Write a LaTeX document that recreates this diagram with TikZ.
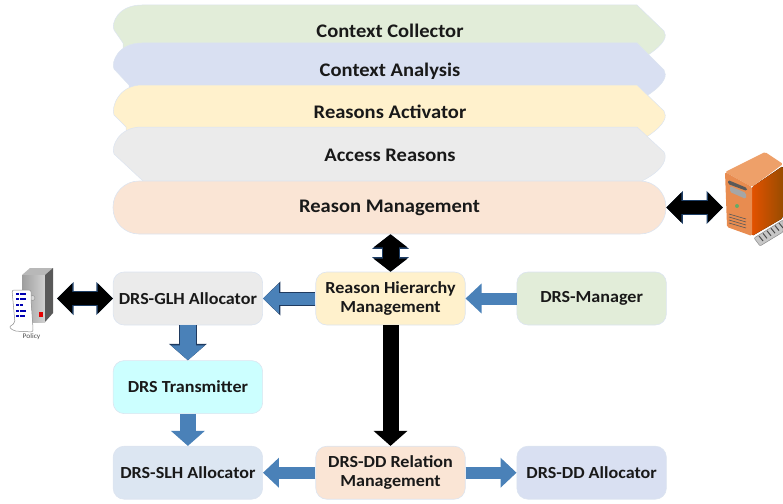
\documentclass[tikz,border=0pt]{standalone}
\usepackage{fontspec}
\setmainfont[FakeStretch=1.07]{Carlito}
\usetikzlibrary{positioning,arrows.meta}
\definecolor{bandgreen}{HTML}{E2EDD9}
\definecolor{bandblue}{HTML}{D9E0F2}
\definecolor{bandyellow}{HTML}{FFF1CC}
\definecolor{bandgray}{HTML}{EBEBEB}
\definecolor{bandorange}{HTML}{FAE5D5}
\definecolor{boxcyan}{HTML}{CCFFFF}
\definecolor{boxsky}{HTML}{DCE6F2}
\definecolor{edgeglow}{HTML}{DCE4F0}
\definecolor{arrowblue}{HTML}{4A81B8}
\definecolor{arrowedge}{HTML}{1F3A5F}
\definecolor{navyedge}{HTML}{1F3F66}
\tikzset{
  unitbox/.style={draw=edgeglow, line width=0.6pt, rounded corners=11pt, minimum width=149.5pt, minimum height=53pt,
    inner sep=0pt, align=center, font=\fontsize{16.9}{19}\selectfont\bfseries, text=black!90},
  bandtext/.style={inner sep=0pt, font=\fontsize{19.2}{22}\selectfont\bfseries, text=black!90},
  bluearrow/.style={line width=12pt, draw=arrowblue, -{Triangle[length=16pt,width=29pt]}},
  bluedown/.style={line width=16pt, draw=arrowblue, -{Triangle[length=15pt,width=33pt]}},
  outlinearrow/.style={bluearrow, preaction={draw=arrowedge, line width=14pt, -{Triangle[length=17.5pt,width=33pt]}}},
  outlinedown/.style={bluedown, preaction={draw=arrowedge, line width=18pt, -{Triangle[length=16.5pt,width=37pt]}}},
  blackdouble/.style={line width=13pt, draw=black,
    preaction={draw=navyedge, line width=15pt, {Triangle[length=16.5pt,width=32pt]}-{Triangle[length=16.5pt,width=32pt]}},
    {Triangle[length=15pt,width=29pt]}-{Triangle[length=15pt,width=29pt]}},
  blackupdown/.style={line width=16pt, draw=black,
    preaction={draw=navyedge, line width=18pt, {Triangle[length=14.5pt,width=36pt]}-{Triangle[length=14.5pt,width=36pt]}},
    {Triangle[length=13pt,width=33pt]}-{Triangle[length=13pt,width=33pt]}},
}
% #1 fill, #2 top, #3 left tip, #4 bottom, #5 chamfer end, #6 right tip, #7 #8 right end
\newcommand{\bandshape}[8]{
  \fill[#1, draw=edgeglow, line width=0.5pt] (142,#2) -- (637,#2) -- (664,#6-2)
    .. controls (667,#6+3) and (666,#8-12) .. (#7,#8)
    -- (#7-6,#8+6) -- (#5,#8+6) -- (#5,#4) -- (114,#3+1)
    .. controls (111,#3-6) and (118,#2) .. (142,#2) -- cycle;
}
\begin{document}
\begin{tikzpicture}[x=1pt, y=-1pt]
\useasboundingbox (0,0) rectangle (783,503);

% stacked bands
\bandshape{bandgreen}{5}{29}{43}{123}{33}{648}{55}
\node[bandtext] (collector) at (390,31) {Context Collector};
\bandshape{bandblue}{43}{68}{85}{129}{72}{648}{95}
\node[bandtext] (analysis) at (390,71) {Context Analysis};
\bandshape{bandyellow}{85}{114}{127}{126}{113}{648}{136}
\node[bandtext] (activator) at (390,112) {Reasons Activator};
\bandshape{bandgray}{127}{153}{181}{143}{154}{642}{181}
\node[bandtext] (access) at (390,155) {Access Reasons};
\node[unitbox, font=\fontsize{19.2}{22}\selectfont\bfseries, fill=bandorange, rounded corners=26pt, minimum width=553pt] (rm) at (389.5,207.5) {\raisebox{-1.5pt}{Reason Management}};

% middle row
\node[unitbox, fill=bandyellow] (rhm) at (390.5,298.5) {Reason Hierarchy\\Management};
\node[unitbox, fill=bandgray, left=52.5pt of rhm] (glh) {DRS-GLH Allocator};
\node[unitbox, fill=bandgreen, right=51pt of rhm] (manager) {DRS-Manager};

% left column and bottom row
\node[unitbox, fill=boxcyan, below=35pt of glh] (transmitter) {DRS Transmitter};
\node[unitbox, fill=boxsky, below=32pt of transmitter] (slh) {DRS-SLH Allocator};
\node[unitbox, fill=bandorange, right=52.5pt of slh] (ddrel) {DRS-DD Relation\\Management};
\node[unitbox, fill=bandblue, right=51pt of ddrel] (ddalloc) {DRS-DD Allocator};

% free ends at the two machines
\coordinate (pcport) at (723,207.5);
\coordinate (policyport) at (57,298.5);

% connectors
\draw[blackdouble] (rm.east) -- (pcport);
\draw[blackupdown] (rm.south -| rhm.north) -- (rhm.north);
\draw[blackdouble] (glh.west) -- (policyport);
\draw[outlinearrow] (rhm.west) -- (glh.east);
\draw[bluearrow] (manager.west) -- (rhm.east);
\draw[outlinedown] (glh.south) -- (transmitter.north);
\draw[bluedown] (transmitter.south) -- (slh.north);
\draw[line width=16pt, draw=black, -{Triangle[length=15pt,width=33pt]}] (rhm.south) -- (ddrel.north);
\draw[bluearrow] (ddrel.west) -- (slh.east);
\draw[bluearrow] (ddrel.east) -- (ddalloc.west);

% orange computer
\begin{scope}[rounded corners=1.5pt]
\fill[left color=orange!85!black!75!red, right color=orange!60!black] (752,187) -- (783,166) -- (783,218) -- (752,236) -- cycle;
\fill[color={rgb,255:red,238;green,160;blue,105}] (725,172) -- (765,152) -- (783,164) -- (752,187) -- cycle;
\fill[color={rgb,255:red,232;green,140;blue,80}] (725,172) -- (752,187) -- (752,236) -- (727,227) -- cycle;
\fill[black!65] (728,180) -- (747,188) -- (747,191) -- (728,184) -- cycle;
\fill[black!35] (730,186) -- (746,193) -- (746,199) -- (730,192) -- cycle;
\end{scope}
\fill[black!55!green!60!white] (737,206) circle (2pt);
\foreach \v in {214,217,220,223}
  \draw[black!65, line width=0.6pt] (729,\v) -- (746,\v+5);
\fill[black!22, draw=black!45, line width=0.5pt, rounded corners=1pt] (754,238) -- (783,220) -- (783,232) -- (760,246) -- cycle;
\foreach \k in {0,...,5}
  \draw[black!70, line width=1pt] (759+\k*4,236-\k*2.6) -- (763+\k*4,241-\k*2.6);

% policy server and scroll
\fill[black!28] (22,275) -- (30,268) -- (53,268) -- (45,275) -- cycle;
\fill[left color=black!38, right color=black!18] (22,275) -- (45,275) -- (45,322) -- (22,322) -- cycle;
\fill[black!65] (45,275) -- (53,268) -- (53,313) -- (45,322) -- cycle;
\fill[red!90!black] (39,312) rectangle (43,317);
\fill[black!15, draw=black!45, line width=0.4pt] (32.5,298) circle (2.5pt);
\fill[white, draw=black!45, line width=0.5pt, rounded corners=2pt] (12,290) -- (31,290) -- (31,300) -- (33,328) -- (33,332) -- (14,331) -- (9,327) -- (15,323) -- cycle;
\foreach \v/\w in {294/27,299/26,305/23,311/27,316/25}
  \draw[blue!70!black, line width=1.2pt, dash pattern=on 3pt off 0.7pt] (16,\v) -- (\w,\v);
\node[inner sep=0pt, font=\fontsize{7}{8}\selectfont, text=black!70] (policylabel) at (31.5,337) {Policy};
\end{tikzpicture}
\end{document}
